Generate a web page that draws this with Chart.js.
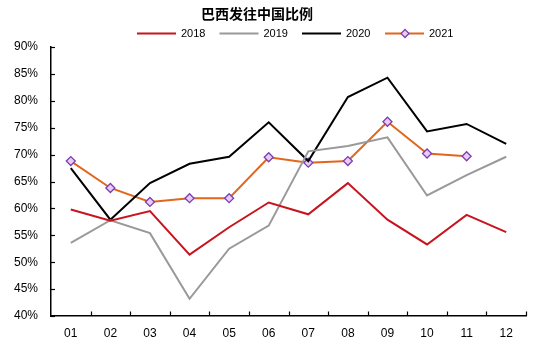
<!DOCTYPE html>
<html>
<head>
<meta charset="utf-8">
<script src="https://cdn.jsdelivr.net/npm/chart.js@4/dist/chart.umd.min.js"></script>
<style>
html,body{margin:0;padding:0;background:#fff;}
#wrap{width:550px;height:351px;position:relative;}
</style>
</head>
<body>
<div id="wrap"><canvas id="c" width="550" height="351"></canvas></div>
<script>
const title = '巴西发往中国比例';
const categories = ['01','02','03','04','05','06','07','08','09','10','11','12'];
const yTicks = [40,45,50,55,60,65,70,75,80,85,90];
const series2018 = [59.8,57.7,59.5,51.4,56.5,61.1,58.9,64.7,57.9,53.3,58.8,55.6];
const series2019 = [53.6,57.8,55.4,43.2,52.5,56.8,70.6,71.6,73.2,62.4,66.2,69.6];
const series2020 = [67.5,57.9,64.7,68.3,69.6,76.0,68.8,80.7,84.3,74.3,75.7,72.0];
const series2021 = [68.8,63.8,61.2,61.9,61.9,69.5,68.5,68.8,76.1,70.2,69.7,null];
const seriesNames = ['2018','2019','2020','2021'];

const FONT = "'Liberation Sans', Arial, sans-serif";

const decoPlugin = {
  id: 'deco',
  afterDraw(chart) {
    const ctx = chart.ctx;
    const x = chart.scales.x, y = chart.scales.y;
    ctx.save();
    ctx.strokeStyle = '#000';
    ctx.lineWidth = 1.2;
    // inward ticks on y axis
    y.ticks.forEach((t, i) => {
      const py = Math.round(y.getPixelForTick(i)) + 0.5;
      ctx.beginPath(); ctx.moveTo(x.left, py); ctx.lineTo(x.left + 4, py); ctx.stroke();
    });
    // inward ticks on x axis at category boundaries
    for (let i = 1; i <= categories.length; i++) {
      const px = Math.round(x.getPixelForValue(i - 0.5)) + 0.5;
      ctx.beginPath(); ctx.moveTo(px, y.bottom); ctx.lineTo(px, y.bottom - 4.5); ctx.stroke();
    }
    // title
    ctx.fillStyle = '#000';
    ctx.font = "bold 14px 'Noto Sans CJK SC', sans-serif";
    ctx.textAlign = 'center';
    ctx.textBaseline = 'middle';
    ctx.fillText(title, 257, 14);
    // legend
    const starts = [137, 219.5, 302, 385];
    ctx.font = '11px ' + FONT;
    ctx.textAlign = 'left';
    chart.data.datasets.forEach((ds, i) => {
      const lx = starts[i], ly = 33.5;
      ctx.strokeStyle = ds.borderColor;
      ctx.lineWidth = 2;
      ctx.beginPath(); ctx.moveTo(lx, ly); ctx.lineTo(lx + 39, ly); ctx.stroke();
      if (ds.pointRadius > 0) {
        const cx = lx + 20, r = 4;
        ctx.beginPath();
        ctx.moveTo(cx, ly - r); ctx.lineTo(cx + r, ly); ctx.lineTo(cx, ly + r); ctx.lineTo(cx - r, ly); ctx.closePath();
        ctx.fillStyle = ds.pointBackgroundColor; ctx.fill();
        ctx.strokeStyle = ds.pointBorderColor; ctx.lineWidth = 1.3; ctx.stroke();
      }
      ctx.fillStyle = '#000';
      ctx.fillText(ds.label, lx + 44, ly);
    });
    ctx.restore();
  }
};

const mk = (label, data, color, marker) => ({
  label, data,
  borderColor: color,
  backgroundColor: color,
  borderWidth: 2,
  tension: 0,
  spanGaps: false,
  pointRadius: marker ? 4.5 : 0,
  pointHoverRadius: marker ? 4.5 : 0,
  pointStyle: 'rectRot',
  pointBackgroundColor: '#E8CCF7',
  pointBorderColor: '#7B3FB0',
  pointBorderWidth: 1.3
});

new Chart(document.getElementById('c'), {
  type: 'line',
  data: {
    labels: categories,
    datasets: [
      mk(seriesNames[0], series2018, '#C8141E', false),
      mk(seriesNames[1], series2019, '#999999', false),
      mk(seriesNames[2], series2020, '#000000', false),
      mk(seriesNames[3], series2021, '#E2661C', true)
    ]
  },
  options: {
    responsive: false,
    animation: false,
    layout: { padding: { top: 47, left: 0, right: 24, bottom: 10 } },
    plugins: { legend: { display: false }, title: { display: false }, tooltip: { enabled: false } },
    scales: {
      x: {
        offset: true,
        grid: { display: true, drawOnChartArea: false, drawTicks: false },
        border: { display: true, color: '#000', width: 1.5 },
        ticks: { color: '#000', font: { family: FONT, size: 12 }, padding: 10, maxRotation: 0 },
        afterFit(s) { s.height = 25; }
      },
      y: {
        min: 40, max: 90,
        grid: { display: true, drawOnChartArea: false, drawTicks: false },
        border: { display: true, color: '#000', width: 1.5 },
        afterBuildTicks(s) { s.ticks = yTicks.map(v => ({ value: v })); },
        ticks: { color: '#000', font: { family: FONT, size: 12 }, padding: 13, callback: v => v + '%' },
        afterFit(s) { s.width = 51; }
      }
    }
  },
  plugins: [decoPlugin]
});
</script>
</body>
</html>
